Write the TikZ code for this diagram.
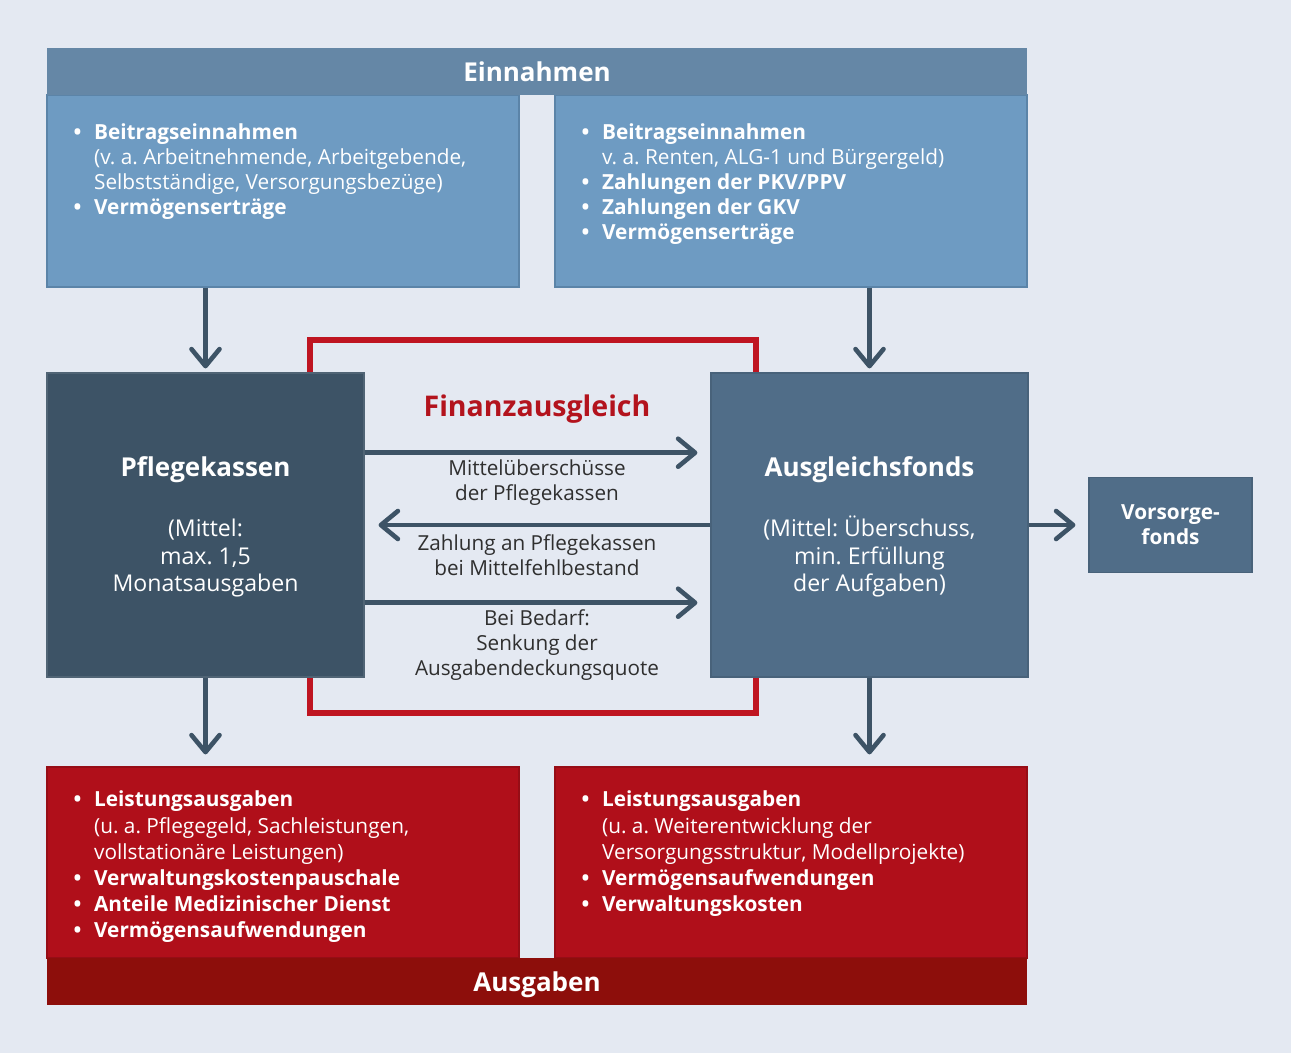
\documentclass[tikz,border=0pt]{standalone}
\usepackage{fontspec}
\setmainfont{Open Sans}
\usetikzlibrary{positioning,arrows.meta}

\definecolor{hintergrund}{HTML}{E4E9F2}
\definecolor{einkopf}{HTML}{6587A6}
\definecolor{einfeld}{HTML}{6E9BC2}
\definecolor{einrand}{HTML}{5B84A8}
\definecolor{kassenblau}{HTML}{3D5366}
\definecolor{fondsblau}{HTML}{506D88}
\definecolor{pfeil}{HTML}{3D5366}
\definecolor{rahmenrot}{HTML}{BF1521}
\definecolor{ausfeld}{HTML}{B00F1A}
\definecolor{auskopf}{HTML}{8D0E0B}
\definecolor{titelrot}{HTML}{B3131D}
\definecolor{schrift}{HTML}{2F2F2F}

\newcommand{\pkt}{\makebox[20.5pt][l]{\textbf{\textbullet}}}
\newcommand{\ein}{\hspace*{20.5pt}}
\frenchspacing

\begin{document}
\begin{tikzpicture}[x = 1pt, y = -1pt, on grid,
    feld/.style      = {rectangle,
                        line width = 1.2pt,
                        minimum width = 472pt,
                        minimum height = 192pt},
    einfeld/.style   = {feld, fill = einfeld, draw = einrand},
    ausfeld/.style   = {feld, fill = ausfeld, draw = ausfeld!85!black,
                        minimum height = 191pt},
    kopf/.style      = {rectangle,
                        minimum width = 980pt,
                        minimum height = 47pt,
                        text height = 20.5pt, text depth = 0pt,
                        text = white,
                        font = \fontsize{26}{30}\selectfont\bfseries},
    kasse/.style     = {rectangle,
                        line width = 1.2pt,
                        minimum width = 317pt,
                        minimum height = 304pt,
                        text = white,
                        align = center,
                        font = \fontsize{23.1}{27.7}\selectfont},
    liste/.style     = {anchor = north west, inner sep = 0pt,
                        align = left, text = white},
    fluss/.style     = {draw = pfeil, line width = 4.6pt,
                        -{Straight Barb[length = 17pt, width = 28pt, round]}},
    fluss text/.style = {anchor = north, inner sep = 0pt,
                        align = center, text = schrift,
                        font = \fontsize{20.7}{25}\selectfont}]

\fill[hintergrund] (0,0) rectangle (1291,1053);
\useasboundingbox (0,0) rectangle (1291,1053);

% red frame round the Finanzausgleich
\node[draw = rahmenrot, line width = 5.3pt, minimum width = 446pt,
      minimum height = 373pt] (FA) at (533,526.5) {};
\node[text = titelrot, font = \fontsize{28.5}{32}\selectfont\bfseries,
      anchor = base] (FAtitel) at (537,416) {Finanzausgleich};

% Einnahmen
\node[einfeld] (EinL) at (283,191) {};
\node[einfeld] (EinR) [right = 508pt of EinL] {};
\node[kopf, fill = einkopf] (Ein) at (537,71.5) {Einnahmen};

\node[liste, font = \fontsize{20.8}{25}\selectfont] (EinLtext)
  at ([shift = {(27,29.5)}]EinL.north west)
  {\pkt\textbf{Beitragseinnahmen}\\
   \ein(v. a. Arbeitnehmende, Arbeitgebende,\\
   \ein Selbstständige, Versorgungsbezüge)\\
   \pkt\textbf{Vermögenserträge}};
\node[liste, font = \fontsize{20.8}{25}\selectfont] (EinRtext)
  at ([shift = {(27,29.5)}]EinR.north west)
  {\pkt\textbf{Beitragseinnahmen}\\
   \ein v. a. Renten, ALG-1 und Bürgergeld)\\
   \pkt\textbf{Zahlungen der PKV/PPV}\\
   \pkt\textbf{Zahlungen der GKV}\\
   \pkt\textbf{Vermögenserträge}};

% Ausgaben
\node[ausfeld] (AusL) at (283,862.5) {};
\node[ausfeld] (AusR) [right = 508pt of AusL] {};
\node[kopf, fill = auskopf] (Aus) at (537,981.5) {Ausgaben};

\node[liste, font = \fontsize{20.8}{26.1}\selectfont] (AusLtext)
  at ([shift = {(27,24.5)}]AusL.north west)
  {\pkt\textbf{Leistungsausgaben}\\
   \ein(u. a. Pflegegeld, Sachleistungen,\\
   \ein vollstationäre Leistungen)\\
   \pkt\textbf{Verwaltungskostenpauschale}\\
   \pkt\textbf{Anteile Medizinischer Dienst}\\
   \pkt\textbf{Vermögensaufwendungen}};
\node[liste, font = \fontsize{20.8}{26.1}\selectfont] (AusRtext)
  at ([shift = {(27,24.5)}]AusR.north west)
  {\pkt\textbf{Leistungsausgaben}\\
   \ein(u. a. Weiterentwicklung der\\
   \ein Versorgungsstruktur, Modellprojekte)\\
   \pkt\textbf{Vermögensaufwendungen}\\
   \pkt\textbf{Verwaltungskosten}};

% Kassen und Fonds
\node[kasse, fill = kassenblau, draw = kassenblau!90!white] (PK) at (205.5,525)
  {{\fontsize{26}{27.7}\selectfont\bfseries\rule{0pt}{24pt}Pflegekassen}\\[32pt]
   (Mittel:\\ max. 1,5\\ Monatsausgaben};
\node[kasse, fill = fondsblau, draw = fondsblau!90!black] (AF) [right = 664pt of PK]
  {{\fontsize{26}{27.7}\selectfont\bfseries\rule{0pt}{24pt}Ausgleichsfonds}\\[32pt]
   (Mittel: Überschuss,\\ min. Erfüllung\\ der Aufgaben)};
\node[rectangle, fill = fondsblau, draw = fondsblau!90!black, line width = 1.2pt,
      minimum width = 163pt, minimum height = 95pt, text = white, align = center,
      font = \fontsize{20.8}{25}\selectfont\bfseries] (VF) [right = 301pt of AF]
  {Vorsorge-\\fonds};

% Pfeile
\draw[fluss, shorten > = 4pt] (EinL.south -| PK) -- (PK.north);
\draw[fluss, shorten > = 4pt] (EinR.south -| AF) -- (AF.north);
\draw[fluss, shorten > = 12pt] (PK.south) -- (AusL.north -| PK);
\draw[fluss, shorten > = 12pt] (AF.south) -- (AusR.north -| AF);

\draw[fluss, shorten > = 13pt] ([yshift = 72.3pt]PK.east) -- ([yshift = 72.3pt]AF.west);
\draw[fluss, shorten > = 14pt] (AF.west) -- (PK.east);
\draw[fluss, shorten > = 13pt] ([yshift = -77.7pt]PK.east) -- ([yshift = -77.7pt]AF.west);
\draw[fluss, shorten > = 13pt] (AF.east) -- (VF.west);

\node[fluss text] (M1) at (537,459.5) {Mittelüberschüsse\\der Pflegekassen};
\node[fluss text] (M2) at (537,534.5) {Zahlung an Pflegekassen\\bei Mittelfehlbestand};
\node[fluss text] (M3) at (537,609.5) {Bei Bedarf:\\Senkung der\\Ausgabendeckungsquote};

\end{tikzpicture}
\end{document}
